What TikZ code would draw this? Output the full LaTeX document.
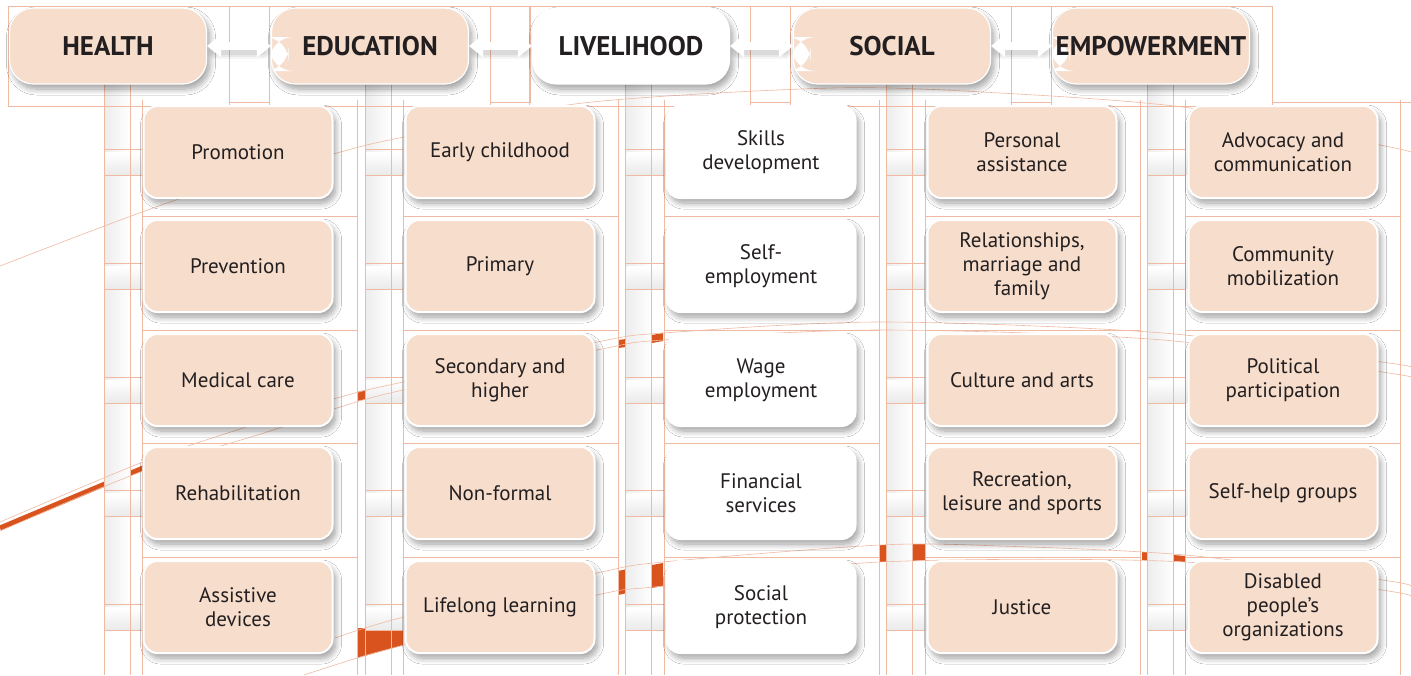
\documentclass[tikz,border=0pt]{standalone}
\usepackage{fontspec}
\setmainfont{PT Sans}
\usetikzlibrary{shadows.blur,arrows.meta,calc}
\definecolor{peach}{HTML}{F6DDCC}
\definecolor{ink}{HTML}{231F20}
\definecolor{guide}{HTML}{EFB9A2}
\definecolor{swoosh}{HTML}{D9531E}
\begin{document}
\begin{tikzpicture}[x=1pt,y=-1pt,
  softshadow/.style={blur shadow={shadow xshift=3pt, shadow yshift=-5pt, shadow blur radius=6pt, shadow blur steps=12, shadow opacity=38}},
  hdr/.style={rounded corners=24pt, fill=peach, draw=white, line width=1.2pt,
    minimum width=197pt, minimum height=76pt, inner sep=0pt,
    font=\fontsize{27}{30}\selectfont\bfseries, text=ink, softshadow},
  hdrw/.style={hdr, fill=white},
  notch/.style={path picture={\fill[white] ([shift={(-2pt,9pt)}]path picture bounding box.west) rectangle ([shift={(17pt,-25pt)}]path picture bounding box.west);}},
  sub/.style={rounded corners=14pt, fill=peach, draw=white, line width=2pt,
    minimum width=189pt, minimum height=92pt, inner sep=0pt, align=center,
    font=\fontsize{21}{24}\selectfont, text=ink, softshadow},
  subw/.style={sub, fill=white},
  guideline/.style={guide, line width=0.6pt},
  chunk/.style={fill=swoosh, draw=none},
  harrow/.style={white, line width=8pt, {Triangle[length=14pt,width=22pt]}-{Triangle[length=14pt,width=22pt]}},
  harrowshade/.style={black, line cap=round},
]
\fill[white] (0,0) rectangle (1411,675);
\useasboundingbox (0,0) rectangle (1411,675);

% swoosh fragments (under the bars)
\draw[swoosh, line width=5pt] (0,528) -- (143,468);
\fill[chunk] (357,392) -- (366,390) -- (366,399) -- (357,401) -- cycle;
\fill[chunk] (618,340) -- (626,339) -- (626,347) -- (618,348) -- cycle;
\fill[chunk] (652,335) -- (663,333) -- (663,341) -- (652,343) -- cycle;
\fill[chunk] (618,571) -- (627,569) -- (627,593) -- (618,595) -- cycle;
\fill[chunk] (652,565) -- (663,563) -- (663,586) -- (652,588) -- cycle;
\fill[chunk] (879,545) -- (887,545) -- (887,562) -- (879,562) -- cycle;
\fill[chunk] (913,544) -- (925,544) -- (925,560) -- (913,561) -- cycle;
\fill[chunk] (1142,552) -- (1148,552) -- (1148,560) -- (1142,560) -- cycle;
\fill[chunk] (1174,555) -- (1185,556) -- (1185,562) -- (1174,561) -- cycle;
\fill[chunk] (357,628) -- (404,630) -- (404,645) -- (357,658) -- cycle;

% bars and stubs
\foreach \k in {0,...,4}{
  \pgfmathsetmacro\hx{108+260.8*\k}
  \pgfmathsetmacro\bx{\hx+130.5}
  \shade[left color=black!7, right color=white] (\hx-3,84) rectangle (\hx+22,630);
  \foreach \r in {152,266,380,493,607}{
    \shade[top color=white, bottom color=black!8] (\hx-3,\r+1) rectangle (\bx-94,\r+22);
    \draw[white, line width=1.5pt] (\hx-3,\r+1) -- (\bx-94,\r+1);
  }
}

% thin guide lines
\foreach \k in {0,...,4}{
  \pgfmathsetmacro\hx{108+260.8*\k}
  \pgfmathsetmacro\bx{\hx+130.5}
  \draw[guideline] (\hx-4,84) -- (\hx-4,675);
  \draw[guideline] (\hx+22,84) -- (\hx+22,675);
  \draw[guideline] (\bx-96,100) -- (\bx-96,675);
  \draw[guideline] (\bx+119,100) -- (\bx+119,675);
  \draw[guideline] (\hx-100,6) rectangle (\hx+121,106);
  \foreach \r in {266,380,493,607}{
    \draw[guideline] (\bx-96,\r-50) -- (\bx+119,\r-50);
  }
  \foreach \r in {152,266,380,493,607}{
    \draw[guideline] (\hx-4,\r-3) -- (\bx-96,\r-3);
    \draw[guideline] (\hx-4,\r+23) -- (\bx-96,\r+23);
  }
}
\foreach \k in {0,...,3}{
  \pgfmathsetmacro\hx{108+260.8*\k}
  \draw[guideline] (\hx+121,6) rectangle (\hx+161,102);
}
\draw[guideline] (1272,102) -- (1411,102);

% thin swoosh edges
\draw[guideline] plot[smooth] coordinates {(0,266) (176,200) (337,153) (404,137) (583,103) (833,88) (1000,93) (1190,108) (1380,145) (1411,152)};
\draw[guideline] plot[smooth] coordinates {(0,522) (143,462) (243,428) (337,398) (403,382) (597,342) (663,333) (880,322) (1163,333) (1382,362) (1411,367)};
\draw[guideline] plot[smooth] coordinates {(0,531) (143,471) (267,432) (337,408) (403,390) (597,350) (663,340) (880,330) (1163,340) (1382,372) (1411,377)};
\draw[guideline] plot[smooth] coordinates {(335,638) (404,617) (597,573) (663,562) (880,545) (1000,546) (1185,555) (1382,580) (1411,586)};
\draw[guideline] plot[smooth] coordinates {(304,675) (357,658) (404,645) (597,595) (663,586) (880,562) (1185,562) (1382,590) (1411,596)};

% sub boxes
\node[sub] (a1) at (238,152) {Promotion};
\node[sub] (a2) at (238,266) {Prevention};
\node[sub] (a3) at (238,380) {Medical care};
\node[sub] (a4) at (238,493) {Rehabilitation};
\node[sub] (a5) at (238,607) {Assistive\\devices};

\node[sub] (b1) at (500,152) {Early childhood};
\node[sub] (b2) at (500,266) {Primary};
\node[sub] (b3) at (500,380) {Secondary and\\higher};
\node[sub] (b4) at (500,493) {Non-formal};
\node[sub] (b5) at (500,607) {Lifelong learning};

\node[subw] (c1) at (761,152) {Skills\\development};
\node[subw] (c2) at (761,266) {Self-\\employment};
\node[subw] (c3) at (761,380) {Wage\\employment};
\node[subw] (c4) at (761,493) {Financial\\services};
\node[subw] (c5) at (761,607) {Social\\protection};

\node[sub] (d1) at (1022,152) {Personal\\assistance};
\node[sub] (d2) at (1022,266) {Relationships,\\marriage and\\family};
\node[sub] (d3) at (1022,380) {Culture and arts};
\node[sub] (d4) at (1022,493) {Recreation,\\leisure and sports};
\node[sub] (d5) at (1022,607) {Justice};

\node[sub] (e1) at (1283,152) {Advocacy and\\communication};
\node[sub] (e2) at (1283,266) {Community\\mobilization};
\node[sub] (e3) at (1283,380) {Political\\participation};
\node[sub] (e4) at (1283,493) {Self-help groups};
\node[sub] (e5) at (1283,607) {Disabled\\people’s\\organizations};

% headers
\node[hdr] (h1) at (108,46) {HEALTH};
\node[hdr, notch] (h2) at (370,46) {EDUCATION};
\node[hdrw] (h3) at (631,46) {LIVELIHOOD};
\node[hdr, notch] (h4) at (892,46) {SOCIAL};
\node[hdr, notch] (h5) at (1151,46) {EMPOWERMENT};

% arrows between headers
\foreach \p/\q in {h1/h2,h2/h3,h3/h4,h4/h5}{
  \foreach \w/\o in {16/0.04,12/0.05,8/0.06}{
    \draw[harrowshade, line width=\w pt, opacity=\o, shorten <=8pt, shorten >=8pt] ([yshift=-5pt]\p.east) -- ([yshift=-5pt]\q.west);
  }
  \draw[harrow] (\p.east) -- (\q.west);
}
\end{tikzpicture}
\end{document}
